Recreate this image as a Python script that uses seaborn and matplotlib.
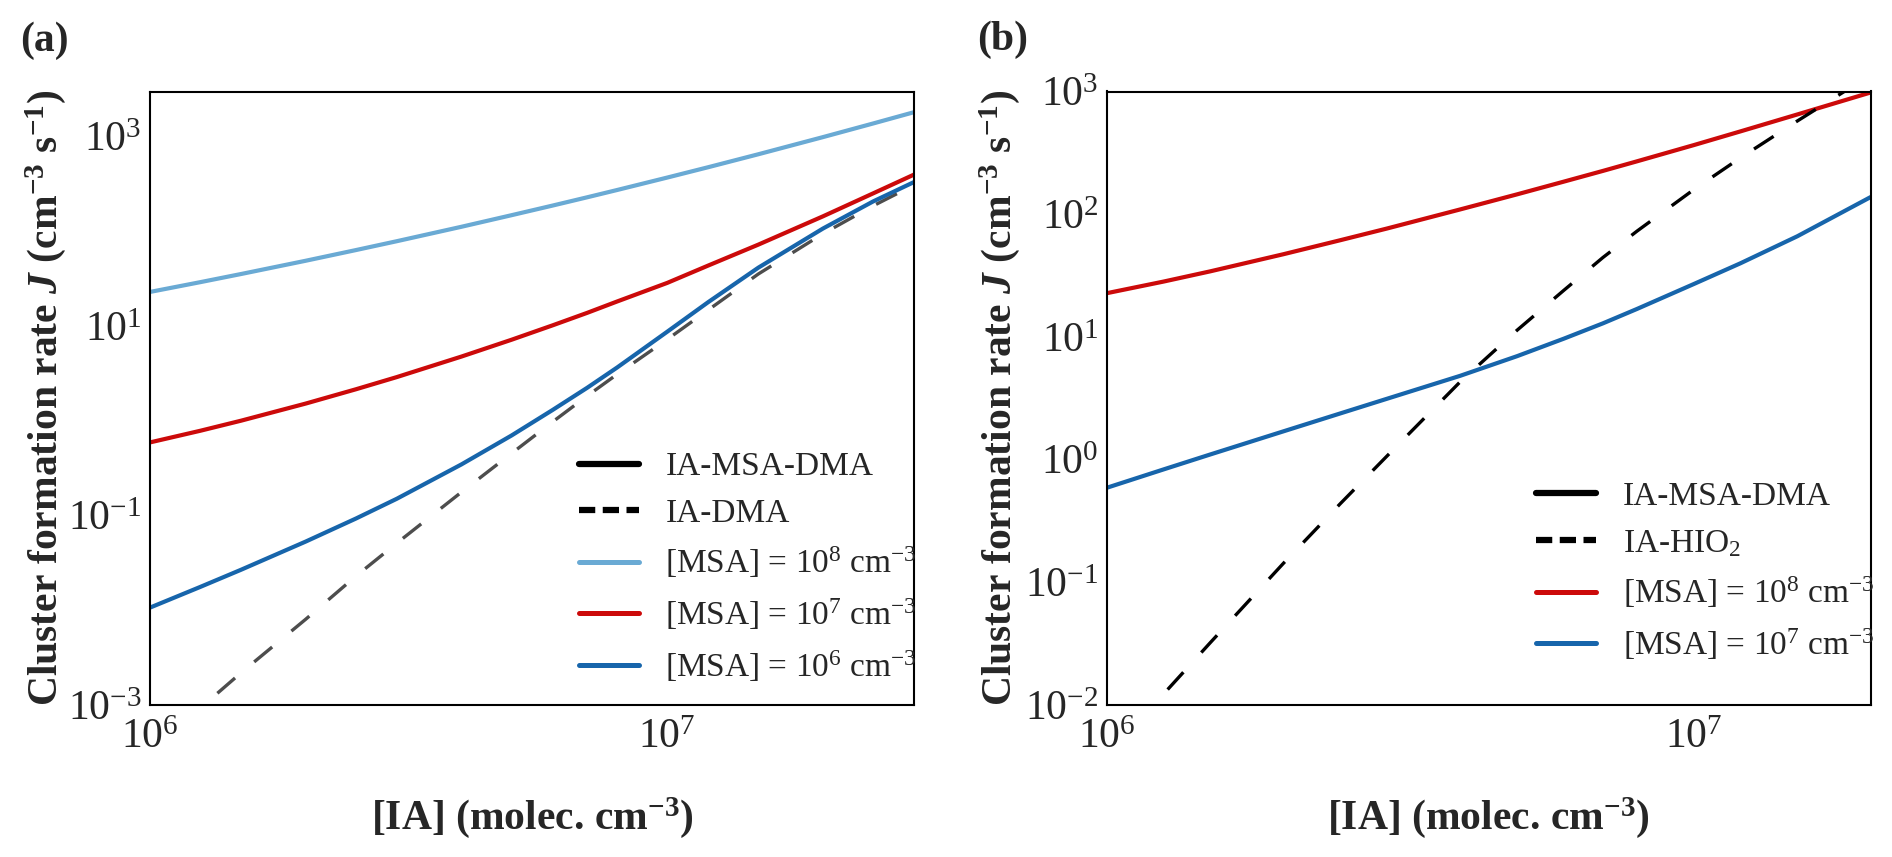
import numpy as np
import pandas as pd
import matplotlib
matplotlib.use("Agg")
import matplotlib.pyplot as plt
import seaborn as sns
from matplotlib.lines import Line2D
from matplotlib.ticker import FixedLocator, FixedFormatter, LogLocator, NullFormatter

# ---------------- data ----------------
# panel (a)
ia_a = [1e6, 1.25e6, 1.5e6, 2e6, 2.5e6, 3e6, 4e6, 5e6, 6e6, 7e6, 8e6,
        1e7, 1.2e7, 1.5e7, 2e7, 2.5e7, 3e7]
j_msa8_a = [22.96, 29.1, 35.5, 49.0, 63.5, 78.8, 111.9, 148.3, 187.3, 229.1, 273.6,
            370.2, 476.1, 652.3, 989.5, 1378, 1814]
j_msa7_a = [0.592, 0.785, 1.004, 1.522, 2.153, 2.897, 4.77, 7.18, 10.18, 13.8, 18.2,
            28.6, 43.6, 72.5, 144.2, 251.8, 398]
j_msa6_a = [0.01067, 0.01762, 0.02679, 0.05314, 0.0929, 0.1504, 0.3466, 0.7003, 1.300, 2.231, 3.656,
            8.73, 17.91, 41.4, 107.2, 207.0, 331.9]
ia_dma_x = [1.35e6, 1.5e6, 2e6, 2.5e6, 3e6, 4e6, 5e6, 6e6, 7e6, 8e6,
            1e7, 1.2e7, 1.5e7, 2e7, 2.5e7, 3e7]
j_ia_dma = [0.00133, 0.00219, 0.00804, 0.0229, 0.0511, 0.1766, 0.453, 0.973, 1.83, 3.10,
            7.24, 14.8, 35.5, 94.4, 186, 309]

# panel (b)
ia_b = [1e6, 1.25e6, 1.5e6, 2e6, 2.5e6, 3e6, 4e6, 5e6, 6e6, 7e6, 8e6,
        1e7, 1.2e7, 1.5e7, 2e7]
j_msa8_b = [22.7, 28.25, 34.2, 47.2, 61.4, 76.4, 109.4, 145.2, 184.1, 225.4, 269.8,
            366, 473, 650, 982]
j_msa7_b = [0.589, 0.832, 1.10, 1.70, 2.38, 3.13, 4.82, 6.97, 9.66, 12.9, 16.9,
            27.0, 39.8, 66.1, 138]
ia_hio2_x = [1.27e6, 1.5e6, 2e6, 2.5e6, 3e6, 4e6, 5e6, 6e6, 7e6, 8e6,
             1e7, 1.2e7, 1.5e7, 2e7]
j_ia_hio2 = [0.01337, 0.0321, 0.143, 0.438, 1.067, 4.31, 11.35, 23.9, 44.4, 72.8,
             159, 288, 575, 1365]

# ticks
xticks = [1e6, 1e7]
xtick_labels = [r"$\mathdefault{10^{6}}$", r"$\mathdefault{10^{7}}$"]
yticks_a = [1e-3, 1e-2, 1e-1, 1e0, 1e1, 1e2, 1e3]
ytick_labels_a = [r"$\mathdefault{10^{-3}}$", "", r"$\mathdefault{10^{-1}}$", "",
                  r"$\mathdefault{10^{1}}$", "", r"$\mathdefault{10^{3}}$"]
yticks_b = [1e-2, 1e-1, 1e0, 1e1, 1e2, 1e3]
ytick_labels_b = [r"$\mathdefault{10^{-2}}$", r"$\mathdefault{10^{-1}}$", r"$\mathdefault{10^{0}}$",
                  r"$\mathdefault{10^{1}}$", r"$\mathdefault{10^{2}}$", r"$\mathdefault{10^{3}}$"]

labels_a = ["IA-MSA-DMA", "IA-DMA",
            r"[MSA] = 10$^{8}$ cm$^{-3}$", r"[MSA] = 10$^{7}$ cm$^{-3}$", r"[MSA] = 10$^{6}$ cm$^{-3}$"]
labels_b = ["IA-MSA-DMA", r"IA-HIO$_{2}$",
            r"[MSA] = 10$^{8}$ cm$^{-3}$", r"[MSA] = 10$^{7}$ cm$^{-3}$"]

# ---------------- style ----------------
sns.set_style("white")
plt.rcParams.update({
    "font.family": ["Liberation Serif", "DejaVu Serif"],
    "mathtext.fontset": "custom",
    "mathtext.rm": "Liberation Serif",
    "mathtext.it": "Liberation Serif:italic",
    "mathtext.bf": "Liberation Serif:bold",
})
if "mathtext.bfit" in plt.rcParams:
    plt.rcParams["mathtext.bfit"] = "Liberation Serif:italic:bold"
    J_TXT = r"$\mathbfit{J}$"
else:
    J_TXT = r"$\mathit{J}$"

LIGHT = "#6aaad4"
RED = "#cc0a0a"
BLUE = "#1765ab"
GRAY = "#4d4d4d"
LW = 3.0

W, H = 1892, 857
fig = plt.figure(figsize=(W / 100, H / 100), dpi=100)
ax_a = fig.add_axes([150 / W, 1 - 705 / H, 764 / W, 613.5 / H])
ax_b = fig.add_axes([1106.7 / W, 1 - 705 / H, 764 / W, 613.5 / H])

# panel (a): dashed first, coloured on top
sns.lineplot(x=ia_dma_x, y=j_ia_dma, ax=ax_a, color=GRAY, lw=2.4, legend=False)
ax_a.lines[-1].set_dashes((7, 7.5))
sns.lineplot(x=ia_a, y=j_msa8_a, ax=ax_a, color=LIGHT, lw=LW, legend=False)
sns.lineplot(x=ia_a, y=j_msa7_a, ax=ax_a, color=RED, lw=LW, legend=False)
sns.lineplot(x=ia_a, y=j_msa6_a, ax=ax_a, color=BLUE, lw=LW, legend=False)

# panel (b)
sns.lineplot(x=ia_b, y=j_msa8_b, ax=ax_b, color=RED, lw=LW, legend=False)
sns.lineplot(x=ia_b, y=j_msa7_b, ax=ax_b, color=BLUE, lw=LW, legend=False)
sns.lineplot(x=ia_hio2_x, y=j_ia_hio2, ax=ax_b, color="black", lw=2.4, legend=False)
ax_b.lines[-1].set_dashes((7, 8))

ylabel = "Cluster formation rate " + J_TXT + r" (cm$^{\mathbf{-3}}$ s$^{\mathbf{-1}}$)"
xlabel = r"[IA] (molec. cm$^{\mathbf{-3}}$)"

for ax, xlim, ylim, yt, ytl, ylx in [
        (ax_a, (1e6, 3e7), (1e-3, 3e3), yticks_a, ytick_labels_a, -0.137),
        (ax_b, (1e6, 2e7), (1e-2, 1e3), yticks_b, ytick_labels_b, -0.14)]:
    ax.set_xscale("log")
    ax.set_yscale("log")
    ax.set_xlim(*xlim)
    ax.set_ylim(*ylim)
    ax.xaxis.set_major_locator(FixedLocator(xticks))
    ax.xaxis.set_major_formatter(FixedFormatter(xtick_labels))
    ax.yaxis.set_major_locator(FixedLocator(yt))
    ax.yaxis.set_major_formatter(FixedFormatter(ytl))
    ax.xaxis.set_minor_locator(LogLocator(base=10, subs=np.arange(2, 10), numticks=100))
    ax.yaxis.set_minor_locator(LogLocator(base=10, subs=np.arange(2, 10), numticks=100))
    ax.xaxis.set_minor_formatter(NullFormatter())
    ax.yaxis.set_minor_formatter(NullFormatter())
    ax.tick_params(which="both", direction="in", top=False, right=False,
                   width=1.5, color="black")
    ax.tick_params(which="major", length=8.5, labelsize=30)
    ax.tick_params(which="minor", length=4.5)
    ax.tick_params(axis="x", which="major", pad=10)
    ax.tick_params(axis="y", which="major", pad=6)
    for sp in ax.spines.values():
        sp.set_color("black")
        sp.set_linewidth(1.5)
    ax.set_ylabel(ylabel, fontsize=30, fontweight="bold")
    ax.yaxis.set_label_coords(ylx, 0.5)
    ax.yaxis.label.set_verticalalignment("center")
    ax.set_xlabel(xlabel, fontsize=30, fontweight="bold")
    ax.xaxis.set_label_coords(0.5, -0.183)
    ax.xaxis.label.set_verticalalignment("center")

# legends
handles_a = [Line2D([], [], color="black", lw=4.5),
             Line2D([], [], color="black", lw=4.5, dashes=(2.6, 1.2)),
             Line2D([], [], color=LIGHT, lw=3.6),
             Line2D([], [], color=RED, lw=3.6),
             Line2D([], [], color=BLUE, lw=3.6)]
ax_a.legend(handles_a, labels_a, loc="lower left", bbox_to_anchor=(0.561, 0.035),
            frameon=False, fontsize=24, handlelength=1.8, handletextpad=0.8,
            labelspacing=0.48, borderpad=0, borderaxespad=0)
handles_b = [Line2D([], [], color="black", lw=4.5),
             Line2D([], [], color="black", lw=4.5, dashes=(2.6, 1.2)),
             Line2D([], [], color=RED, lw=3.6),
             Line2D([], [], color=BLUE, lw=3.6)]
ax_b.legend(handles_b, labels_b, loc="lower left", bbox_to_anchor=(0.562, 0.07),
            frameon=False, fontsize=24, handlelength=1.8, handletextpad=0.8,
            labelspacing=0.48, borderpad=0, borderaxespad=0)

fig.text(44 / W, 1 - 41 / H, "(a)", fontsize=30, fontweight="bold", ha="center", va="center")
fig.text(1003 / W, 1 - 40 / H, "(b)", fontsize=30, fontweight="bold", ha="center", va="center")

fig.savefig("out.png", dpi=100)
